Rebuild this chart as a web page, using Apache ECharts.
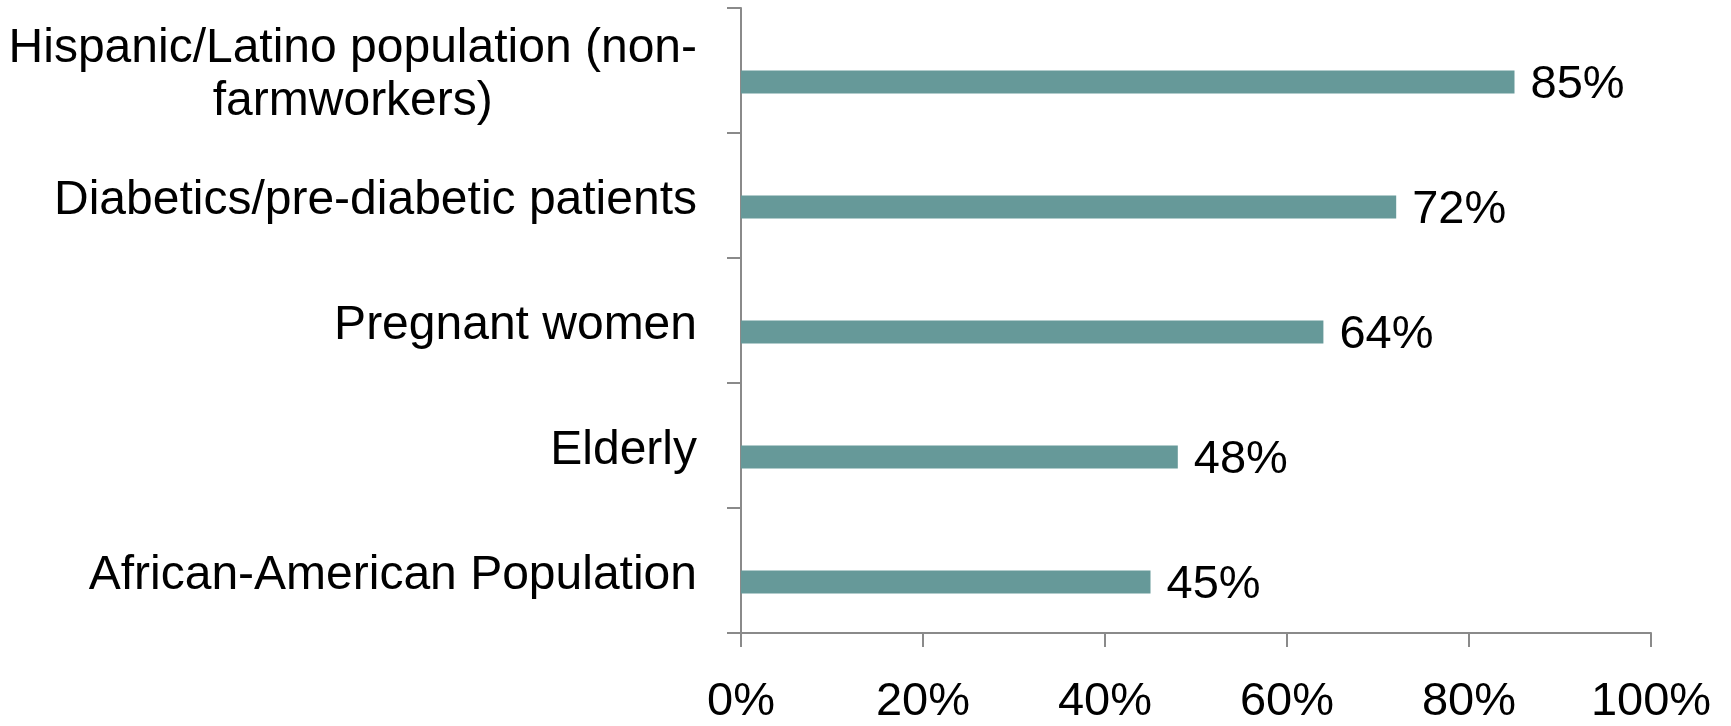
<!DOCTYPE html>
<html>
<head>
<meta charset="utf-8">
<script src="https://cdn.jsdelivr.net/npm/echarts@6/dist/echarts.min.js"></script>
<style>
  html, body { margin: 0; padding: 0; background: #ffffff; }
  #chart { width: 1731px; height: 726px; }
</style>
</head>
<body>
<div id="chart"></div>
<script>
// Groups, listed top to bottom
const categories = [
  'Hispanic/Latino population (non-\nfarmworkers)',
  'Diabetics/pre-diabetic patients',
  'Pregnant women',
  'Elderly',
  'African-American Population'
];
// Share of each group, in percent
const shares = [85, 72, 64, 48, 45];
// Percent ticks along the value axis
const tickValues = [0, 20, 40, 60, 80, 100];

const FONT = '"Liberation Sans", Arial, Helvetica, sans-serif';
const AXIS_GRAY = '#8a8a8a';

const chart = echarts.init(document.getElementById('chart'), null, { renderer: 'canvas' });

chart.setOption({
  animation: false,
  backgroundColor: '#ffffff',
  grid: { left: 741, right: 80, top: 8, bottom: 93, containLabel: false },
  xAxis: {
    type: 'value',
    min: tickValues[0],
    max: tickValues[tickValues.length - 1],
    interval: tickValues[1] - tickValues[0],
    splitLine: { show: false },
    axisLine: { show: true, lineStyle: { color: AXIS_GRAY, width: 2 } },
    axisTick: { show: true, length: 14, lineStyle: { color: AXIS_GRAY, width: 2 } },
    axisLabel: {
      color: '#000000',
      fontFamily: FONT,
      fontSize: 47,
      margin: 46,
      formatter: v => v + '%'
    }
  },
  yAxis: {
    type: 'category',
    inverse: true,
    data: categories,
    axisLine: { show: true, lineStyle: { color: AXIS_GRAY, width: 2 } },
    axisTick: { show: true, length: 14, alignWithLabel: false, lineStyle: { color: AXIS_GRAY, width: 2 } },
    axisLabel: {
      color: '#000000',
      fontFamily: FONT,
      fontSize: 48,
      lineHeight: 53,
      margin: 44,
      align: 'right',
      padding: [10, 0, 0, 0],
      // each line centred within the label block
      formatter: v => v.split('\n').map(s => '{c|' + s + '}').join('\n'),
      rich: {
        c: { align: 'center', fontFamily: FONT, fontSize: 48, lineHeight: 53, color: '#000000' }
      }
    }
  },
  series: [
    {
      // empty companion series: keeps each bar in the lower half of its row
      name: 'spacer',
      type: 'bar',
      barWidth: 23,
      barGap: '0%',
      data: categories.map(() => null),
      silent: true
    },
    {
      name: 'Share',
      type: 'bar',
      barWidth: 23,
      barGap: '0%',
      data: shares,
      itemStyle: { color: '#669999' },
      label: {
        show: true,
        position: 'right',
        distance: 16,
        offset: [0, 3],
        color: '#000000',
        fontFamily: FONT,
        fontSize: 47,
        formatter: p => p.value + '%'
      }
    }
  ]
});
</script>
</body>
</html>
